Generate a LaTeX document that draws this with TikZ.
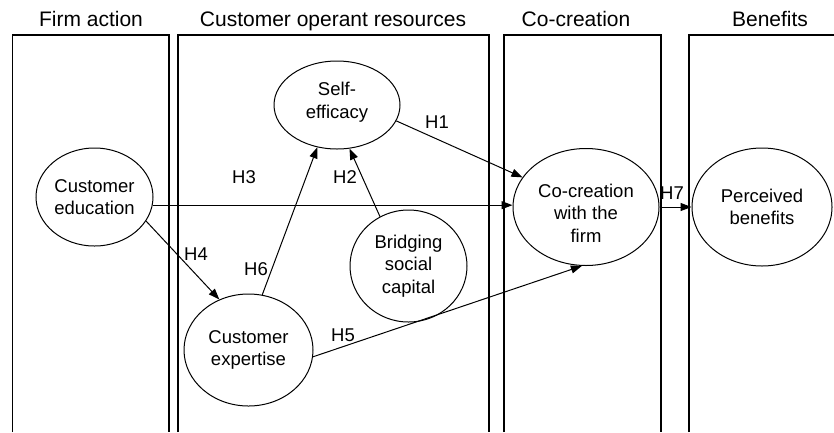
\documentclass[tikz,border=0pt]{standalone}
\usepackage{fontspec}
\setmainfont{Liberation Sans}
\usetikzlibrary{shapes.geometric,arrows.meta}
\begin{document}
\begin{tikzpicture}[x=1pt,y=-1pt,
  panel/.style={line width=1.2pt},
  ell/.style={ellipse,draw,line width=1pt,inner sep=0pt,align=center,font=\fontsize{18.5}{22.7}\selectfont},
  txt/.style={align=center,inner sep=0pt,font=\fontsize{18.5}{22.7}\selectfont},
  ttl/.style={font=\fontsize{21}{24}\selectfont,anchor=base,inner sep=0pt},
  hyp/.style={font=\fontsize{18.5}{22}\selectfont,inner sep=0pt},
  arr/.style={-{Triangle[length=11pt,width=8pt]},line width=1pt}]
\useasboundingbox (0,0) rectangle (834,432);
% panels
\draw[panel] (12.7,432) -- (12.7,35) -- (169,35) -- (169,432);
\draw[panel] (178,432) -- (178,35) -- (489,35) -- (489,432);
\draw[panel] (504,432) -- (504,35) -- (661,35) -- (661,432);
\draw[panel] (689,432) -- (689,35) -- (834,35);
% titles
\node[ttl] (t1) at (91,26) {Firm action};
\node[ttl] (t2) at (333,26) {Customer operant resources};
\node[ttl] (t3) at (576,26) {Co-creation};
\node[ttl] (t4) at (770,26) {Benefits};
% ellipses
\node[ell,minimum width=117pt,minimum height=98pt] (ce) at (94.5,197) {Customer\\education};
\node[ell,minimum width=126pt,minimum height=88pt] (se) at (337,105) {};
\node[txt] (set) at (337,102) {Self-\\efficacy};
\node[ell,minimum width=146pt,minimum height=117pt] (cc) at (586,207) {};
\node[txt] (cct) at (586,213) {Co-creation\\with the\\firm};
\node[ell,minimum width=140pt,minimum height=118pt] (pb) at (762,207) {Perceived\\benefits};
\node[ell,minimum width=117pt,minimum height=112pt] (bs) at (408.5,266) {Bridging\\social\\capital};
\node[ell,minimum width=129pt,minimum height=112pt] (ex) at (248.5,350) {Customer\\expertise};
% connectors
\draw[arr] (se.-15) -- (cc.155);
\draw[arr] (bs.120) -- (se.-74);
\draw[arr] (ce.-8) -- (ce.-8 -| cc.west);
\draw[arr] (ce.-25) -- (ex.120);
\draw[arr] (ex.-6) -- (cc.-94);
\draw[arr] (ex.76) -- (se.-115);
\draw[arr] (cc.east) -- (pb.west);
% labels
\node[hyp] (h1) at (437,122) {H1};
\node[hyp] (h2) at (345,177) {H2};
\node[hyp] (h3) at (244,177) {H3};
\node[hyp] (h4) at (196,254) {H4};
\node[hyp] (h5) at (343,335) {H5};
\node[hyp] (h6) at (256,269) {H6};
\node[hyp] (h7) at (672,193) {H7};
\end{tikzpicture}
\end{document}
